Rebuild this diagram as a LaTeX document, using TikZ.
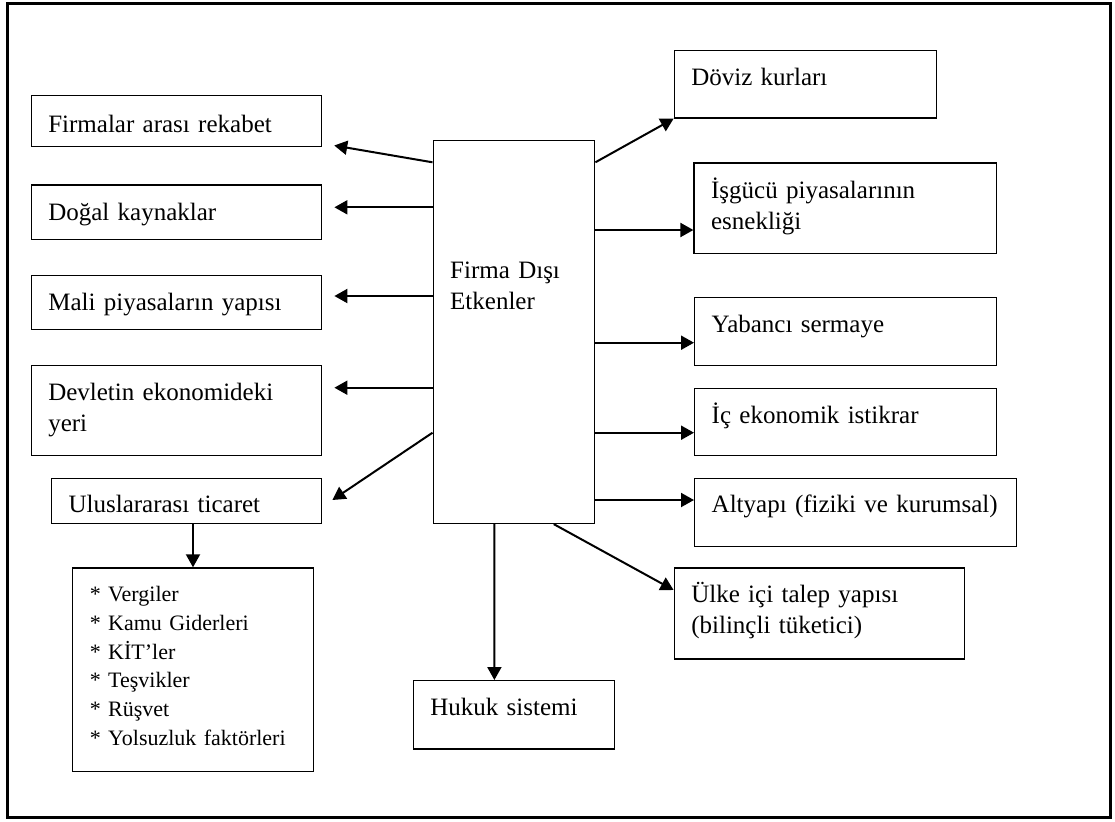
\documentclass[tikz,border=0pt]{standalone}
\usepackage{fontspec}
\setmainfont{Liberation Serif}
\usetikzlibrary{arrows.meta}
\usetikzlibrary{positioning}

\begin{document}
\begin{tikzpicture}[x=0.5pt, y=-0.5pt,
		factor/.style={draw, line width=0.7pt, anchor=north west, align=left, inner xsep=8.5pt, inner ysep=0pt, text height=17.5pt, font=\fontsize{12.5}{15.5}\selectfont},
		push/.style={line width=1pt, -{Triangle[length=6.5pt, width=7pt]}},
		gap/.style={shorten >=6.2pt}]
				\useasboundingbox (0,0) rectangle (1115,821);
				\draw[line width=1.5pt] (7.7,3) rectangle (1110,817);

				\node[factor, text width=63.75pt, text height=69pt, text depth=122.35pt] (etken) at (432.5,140) {Firma Dışı\\Etkenler};

				\node[factor, text width=128pt, text height=18.35pt, text depth=7.15pt] (rekabet) at (30.6,95) {Firmalar arası rekabet};
				\node[factor, text width=128pt, text depth=9.85pt] (kaynak) at (30.6,184.3) {Doğal kaynaklar};
				\node[factor, text width=128pt, text depth=9.5pt] (mali) at (30.6,275) {Mali piyasaların yapısı};
				\node[factor, text width=128pt, text depth=27.5pt] (devlet) at (30.6,365) {Devletin ekonomideki\\yeri};
				\node[factor, text width=117.9pt, text height=17.15pt, text depth=5.35pt] (ticaret) at (50.9,477.7) {Uluslararası ticaret};
				\node[factor, inner xsep=8.8pt, text width=103.1pt, text height=16.85pt, text depth=85pt, font=\fontsize{11}{14.35}\selectfont] (liste) at (71.6,567.3) {{*} Vergiler\\{*} Kamu Giderleri\\{*} KİT’ler\\{*} Teşvikler\\{*} Rüşvet\\{*} Yolsuzluk faktörleri};

				\node[factor, text width=114pt, text depth=16.15pt] (doviz) at (673.6,50) {Döviz kurları};
				\node[factor, text width=134.3pt, text height=17.85pt, text depth=27.35pt] (isgucu) at (693.4,162.3) {İşgücü piyasalarının\\esnekliği};
				\node[factor, text width=134pt, text depth=16.65pt] (sermaye) at (694,296.7) {Yabancı sermaye};
				\node[factor, text width=134pt, text depth=16.15pt] (istikrar) at (694,387.7) {İç ekonomik istikrar};
				\node[factor, text width=143.8pt, text height=17pt, text depth=17pt] (altyapi) at (694,477.7) {Altyapı (fiziki ve kurumsal)};
				\node[factor, text width=128pt, text height=17.2pt, text depth=28.3pt] (talep) at (673.6,567.3) {Ülke içi talep yapısı\\(bilinçli tüketici)};
				\node[factor, text width=83.7pt, text depth=16.65pt] (hukuk) at (412.6,680) {Hukuk sistemi};

				\draw[push, gap] ([yshift=-11.15pt]etken.north west) -- ([yshift=2pt]rekabet.south east);
				\draw[push, gap] ([yshift=-33.65pt]etken.north west) coordinate (l) -- (l -| kaynak.east);
				\draw[push, gap] ([yshift=-78pt]etken.north west) coordinate (l) -- (l -| mali.east);
				\draw[push, gap] ([yshift=-123.85pt]etken.north west) coordinate (l) -- (l -| devlet.east);
				\draw[push, gap] ([yshift=-146.35pt]etken.north west) -- ([yshift=-3pt]ticaret.east);
				\draw[push] (liste.north |- ticaret.south) -- (liste.north);

				\draw[push] ([yshift=-11.15pt]etken.north east) -- (doviz.south west);
				\draw[push] ([yshift=-45pt]etken.north east) coordinate (r) -- (r -| isgucu.west);
				\draw[push] ([yshift=-101.35pt]etken.north east) coordinate (r) -- (r -| sermaye.west);
				\draw[push] ([yshift=-146.35pt]etken.north east) coordinate (r) -- (r -| istikrar.west);
				\draw[push] ([yshift=-180pt]etken.north east) coordinate (r) -- (r -| altyapi.west);
				\draw[push] ([xshift=19.9pt]etken.south) -- ([yshift=-11.35pt]talep.north west);
				\draw[push] ([xshift=-9.8pt]etken.south) -- ([xshift=-9.8pt]hukuk.north);
			\end{tikzpicture}
\end{document}
